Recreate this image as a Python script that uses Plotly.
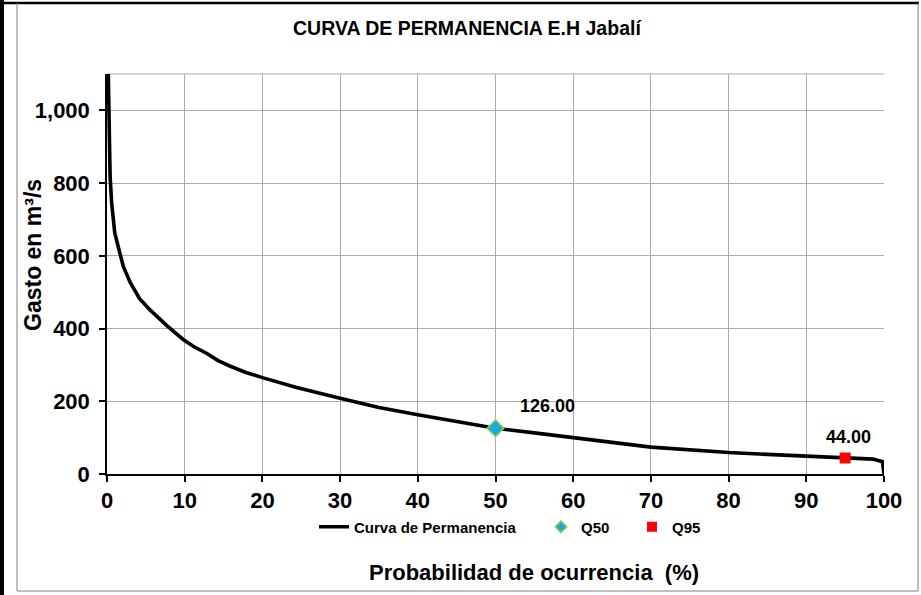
import plotly.graph_objects as go

# Flow duration curve data: exceedance probability (%) vs discharge (m3/s)
pct = [0.0, 0.15, 0.3, 0.4, 0.6, 0.8, 1.0, 1.5, 2.1, 3.0, 3.6, 4.2, 5.5,
       6.6, 7.7, 9.8, 11.2, 12.8, 14.3, 15.8, 17.8, 20.0, 24.4, 30.0,
       35.0, 40.0, 46.0, 50.0, 55.0, 60.0, 65.0, 70.0, 75.0, 80.0, 85.0,
       90.0, 95.0, 98.6, 99.8, 100.0]
flow = [1300, 1150, 1000, 818, 745, 695, 663, 620, 571, 526, 503, 482, 452,
        429, 408, 370, 350, 332, 312, 297, 280, 265, 238, 208,
        183, 163, 142, 126, 113, 101, 87, 74, 66, 59, 54,
        50, 44, 41, 34, 0]

# Characteristic flows
q_names = ["Q50", "Q95"]
q_pct = [50, 95]
q_flow = [126.00, 44.00]

x_ticks = list(range(0, 101, 10))
y_ticks = [0, 200, 400, 600, 800, 1000]

W, H = 921, 595
ML, MR, MT, MB = 107, 37, 74, 121
PW, PH = W - ML - MR, H - MT - MB


def px_x(p):
    return (p - ML) / PW


def px_y(p):
    return (H - MB - p) / PH


FONT = "Liberation Sans, Arial, sans-serif"
Q_STYLE = [
    dict(symbol="diamond", color="#17ace0", line=dict(color="#9ccc45", width=1.5)),
    dict(symbol="square", color="#ff0000", line=dict(width=0)),
]

fig = go.Figure()

fig.add_trace(go.Scatter(
    x=pct, y=flow, mode="lines", name="Curva de Permanencia",
    line=dict(color="black", width=3.6), legend="legend",
))

# Q50 / Q95 points on the curve
for xv, yv, st, size in zip(q_pct, q_flow, Q_STYLE, [13, 11]):
    fig.add_trace(go.Scatter(
        x=[xv], y=[yv], mode="markers", showlegend=False,
        marker=dict(size=size, **st),
    ))

# Legend entries with smaller symbols
for name, st, size, lg in zip(q_names, Q_STYLE, [9, 10], ["legend2", "legend3"]):
    fig.add_trace(go.Scatter(
        x=[None], y=[None], mode="markers", name=name,
        marker=dict(size=size, **st), legend=lg,
    ))

# Value labels for the characteristic flows
shifts = [(52, 22), (3, 21)]
for xv, yv, (dx, dy) in zip(q_pct, q_flow, shifts):
    fig.add_annotation(x=xv, y=yv, text=f"{yv:.2f}", showarrow=False,
                       xshift=dx, yshift=dy, xanchor="center", yanchor="middle",
                       font=dict(family=FONT, size=18, color="black", weight="bold"))

# Title and axis titles
fig.add_annotation(x=px_x(467), y=px_y(28), xref="paper", yref="paper",
                   xanchor="center", yanchor="middle",
                   text="CURVA DE PERMANENCIA E.H Jabalí", showarrow=False,
                   font=dict(family=FONT, size=19.5, color="black", weight="bold"))
fig.add_annotation(x=px_x(33), y=px_y(255), xref="paper", yref="paper",
                   xanchor="center", yanchor="middle",
                   text="Gasto en m³/s", textangle=-90, showarrow=False,
                   font=dict(family=FONT, size=23, color="black", weight="bold"))
fig.add_annotation(x=px_x(534), y=px_y(572), xref="paper", yref="paper",
                   xanchor="center", yanchor="middle",
                   text="Probabilidad de ocurrencia  (%)", showarrow=False,
                   font=dict(family=FONT, size=22, color="black", weight="bold"))

# Chart frame
shapes = [
    dict(type="rect", xref="paper", yref="paper", x0=px_x(0), x1=px_x(4),
         y0=px_y(H), y1=px_y(0), fillcolor="black", line=dict(width=0)),
    dict(type="line", xref="paper", yref="paper", x0=px_x(0), x1=px_x(919),
         y0=px_y(3), y1=px_y(3), line=dict(color="black", width=2.5)),
    dict(type="line", xref="paper", yref="paper", x0=px_x(17), x1=px_x(17),
         y0=px_y(3), y1=px_y(591), line=dict(color="#808080", width=1)),
    dict(type="line", xref="paper", yref="paper", x0=px_x(918), x1=px_x(918),
         y0=px_y(3), y1=px_y(591), line=dict(color="#808080", width=1)),
    dict(type="line", xref="paper", yref="paper", x0=px_x(17), x1=px_x(918),
         y0=px_y(591), y1=px_y(591), line=dict(color="#808080", width=1)),
    # top edge of the plotting area
    dict(type="line", xref="paper", yref="paper", x0=0, x1=1, y0=1, y1=1,
         line=dict(color="#ababab", width=1), layer="below"),
]

legend_font = dict(family=FONT, size=15, color="black", weight="bold")
legend_common = dict(orientation="h", xanchor="left", yanchor="middle",
                     y=px_y(527), bgcolor="rgba(0,0,0,0)", font=legend_font)

fig.update_layout(
    width=W, height=H, autosize=False,
    margin=dict(l=ML, r=MR, t=MT, b=MB),
    paper_bgcolor="white", plot_bgcolor="white",
    font=dict(family=FONT, color="black"),
    shapes=shapes,
    showlegend=True,
    legend=dict(x=px_x(314), **legend_common),
    legend2=dict(x=px_x(541), **legend_common),
    legend3=dict(x=px_x(632), **legend_common),
    xaxis=dict(
        range=[0, 100], tickvals=x_ticks, showgrid=True, gridcolor="#ababab",
        gridwidth=1, showline=True, linecolor="black", linewidth=1.5,
        ticks="outside", ticklen=6, tickcolor="black", tickwidth=1.5,
        zeroline=False,
        tickfont=dict(family=FONT, size=22, color="black", weight="bold"),
    ),
    yaxis=dict(
        range=[0, 1100], tickvals=y_ticks, tickformat=",", showgrid=True,
        gridcolor="#ababab", gridwidth=1, showline=True, linecolor="black",
        linewidth=1.5, ticks="outside", ticklen=6, tickcolor="black",
        tickwidth=1.5, zeroline=False, ticklabelstandoff=5,
        tickfont=dict(family=FONT, size=22, color="black", weight="bold"),
    ),
)

fig.write_html("out.html")
